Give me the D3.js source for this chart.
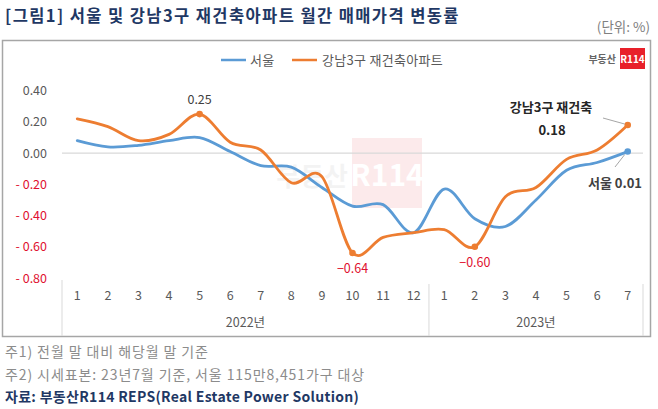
<!DOCTYPE html>
<html><head><meta charset="utf-8">
<script src="https://cdn.jsdelivr.net/npm/d3@7"></script>
<style>
body{margin:0;background:#fff;}
svg{display:block;font-family:"Noto Sans CJK KR","Noto Sans",sans-serif;}
</style></head>
<body>
<svg id="c" width="658" height="409"></svg>
<script>
const months = ["1","2","3","4","5","6","7","8","9","10","11","12","1","2","3","4","5","6","7"];
const years = [{label:"2022년", from:0, to:11},{label:"2023년", from:12, to:18}];
const seoul = [0.08,0.04,0.05,0.08,0.10,0.01,-0.08,-0.09,-0.22,-0.34,-0.33,-0.51,-0.23,-0.42,-0.47,-0.30,-0.11,-0.06,0.01];
const gangnam = [0.22,0.17,0.08,0.12,0.25,0.07,0.02,-0.19,-0.15,-0.64,-0.54,-0.51,-0.49,-0.60,-0.28,-0.22,-0.04,0.02,0.18];
const yTicks = [0.4,0.2,0,-0.2,-0.4,-0.6,-0.8];
const seriesNames = ["서울","강남3구 재건축아파트"];
const colors = ["#5b9bd5","#ed7d31"];

const svg = d3.select("#c");
const idx = d3.range(months.length);
const x = d3.scaleBand().domain(idx).range([62,643]);
const cx = i => x(i) + x.bandwidth()/2;
const y = d3.scaleLinear().domain([-0.8,0.4]).range([278,90.7]);

// Title
svg.append("text").attr("x",5).attr("y",22).attr("font-size",16.5).attr("letter-spacing",1.4).attr("font-weight","bold")
  .attr("fill","#1f3864").text("[그림1] 서울 및 강남3구 재건축아파트 월간 매매가격 변동률");
svg.append("text").attr("x",650).attr("y",32).attr("text-anchor","end").attr("font-size",13.5)
  .attr("fill","#808080").text("(단위: %)");

// chart box
svg.append("rect").attr("x",2.5).attr("y",40.5).attr("width",648).attr("height",296)
  .attr("fill","none").attr("stroke","#a6a6a6").attr("stroke-width",1.5);

// watermark
const wm = svg.append("g").attr("opacity",0.09);
wm.append("text").attr("x",348).attr("y",186).attr("text-anchor","end").attr("font-size",26)
  .attr("font-weight","bold").attr("fill","#888").text("부동산");
wm.append("rect").attr("x",352).attr("y",138).attr("width",70).attr("height",70).attr("fill","#e8202a");
wm.append("text").attr("x",387).attr("y",186).attr("text-anchor","middle").attr("font-size",30)
  .attr("font-weight","bold").attr("fill","#fff").text("R114");

// logo
svg.append("text").attr("x",616).attr("y",63).attr("text-anchor","end").attr("font-size",10)
  .attr("font-weight","bold").attr("fill","#666").text("부동산");
svg.append("rect").attr("x",620).attr("y",48).attr("width",25).attr("height",21).attr("fill","#e8202a");
svg.append("text").attr("x",632.5).attr("y",63).attr("text-anchor","middle").attr("font-size",10)
  .attr("font-weight","bold").attr("fill","#fff").text("R114");

// legend
const lg = svg.append("g");
[[221,246,250],[292,317,322]].forEach((p,i)=>{
  lg.append("line").attr("x1",p[0]).attr("x2",p[1]).attr("y1",60).attr("y2",60)
    .attr("stroke",colors[i]).attr("stroke-width",2.5);
  lg.append("text").attr("x",p[2]).attr("y",65).attr("font-size",13).attr("letter-spacing",0.3).attr("fill","#595959").text(seriesNames[i]);
});

// y axis labels
const ya = svg.append("g").attr("transform","translate(47,0)")
  .call(d3.axisLeft(y).tickValues(yTicks).tickSize(0).tickPadding(0)
    .tickFormat(d => d < 0 ? "- " + d3.format(".2f")(-d) : d3.format(".2f")(d)));
ya.select(".domain").remove();
ya.selectAll("text").attr("font-size",12.5).attr("font-family","'Noto Sans CJK KR',sans-serif")
  .attr("fill",d => d < 0 ? "#e0102f" : "#595959");

// zero line
svg.append("line").attr("x1",62).attr("x2",643).attr("y1",y(0)).attr("y2",y(0))
  .attr("stroke","#d9d9d9").attr("stroke-width",1.2);

// x axis
const xa = svg.append("g").attr("transform","translate(0,286)")
  .call(d3.axisBottom(x).tickSize(0).tickPadding(5).tickFormat(i => months[i]));
xa.select(".domain").remove();
xa.selectAll("text").attr("font-size",12.5).attr("font-family","'Noto Sans CJK KR',sans-serif").attr("fill","#595959");
// separators
[62, x(12), 643].forEach((px,k)=>{
  svg.append("line").attr("x1",px).attr("x2",px).attr("y1",k===0?280:284).attr("y2",336)
    .attr("stroke","#d9d9d9").attr("stroke-width",1);
});
years.forEach(yr=>{
  svg.append("text").attr("x",(x(yr.from)+x(yr.to)+x.bandwidth())/2).attr("y",327)
    .attr("text-anchor","middle").attr("font-size",12.5).attr("fill","#595959").text(yr.label);
});

// lines
const line = d3.line().x((d,i)=>cx(i)).y(d=>y(d)).curve(d3.curveCardinal.tension(0));
[seoul,gangnam].forEach((s,i)=>{
  svg.append("path").attr("d",line(s)).attr("fill","none").attr("stroke",colors[i])
    .attr("stroke-width",2.8).attr("stroke-linecap","round");
});

// markers
[[1,4],[1,9],[1,13],[1,18],[0,18]].forEach(([si,i])=>{
  const s = si ? gangnam : seoul;
  svg.append("circle").attr("cx",cx(i)).attr("cy",y(s[i])).attr("r",3.3).attr("fill",colors[si]);
});

// data labels
svg.append("text").attr("x",cx(4)).attr("y",y(gangnam[4])-10).attr("text-anchor","middle")
  .attr("font-size",12.5).attr("fill","#404040").text(d3.format(".2f")(gangnam[4]));
[9,13].forEach(i=>{
  svg.append("text").attr("x",cx(i)).attr("y",y(gangnam[i])+20).attr("text-anchor","middle")
    .attr("font-size",12.5).attr("fill","#e0102f").text(d3.format(".2f")(gangnam[i]));
});
svg.append("text").attr("x",551).attr("y",112).attr("text-anchor","middle").attr("font-size",13)
  .attr("font-weight","bold").attr("fill","#262626").text("강남3구 재건축");
svg.append("text").attr("x",552).attr("y",135).attr("text-anchor","middle").attr("font-size",13)
  .attr("font-weight","bold").attr("fill","#262626").text(d3.format(".2f")(gangnam[18]));
svg.append("line").attr("x1",603).attr("y1",118).attr("x2",cx(18)-3).attr("y2",y(gangnam[18])-1)
  .attr("stroke","#a6a6a6").attr("stroke-width",1);
svg.append("text").attr("x",615).attr("y",188).attr("text-anchor","middle").attr("font-size",13)
  .attr("font-weight","bold").attr("fill","#404040").text("서울 " + d3.format(".2f")(seoul[18]));
svg.append("line").attr("x1",615).attr("y1",167).attr("x2",cx(18)-3).attr("y2",y(seoul[18])+3)
  .attr("stroke","#a6a6a6").attr("stroke-width",1);

// footnotes
svg.append("text").attr("x",5).attr("y",357).attr("font-size",14).attr("letter-spacing",0.9).attr("fill","#8c8c8c").text("주1) 전월 말 대비 해당월 말 기준");
svg.append("text").attr("x",5).attr("y",380).attr("font-size",14).attr("letter-spacing",0.9).attr("fill","#8c8c8c").text("주2) 시세표본: 23년7월 기준, 서울 115만8,451가구 대상");
svg.append("text").attr("x",5).attr("y",402).attr("font-size",14).attr("letter-spacing",0.3).attr("font-weight","bold").attr("fill","#1f3864").text("자료: 부동산R114 REPS(Real Estate Power Solution)");
</script>
</body></html>
